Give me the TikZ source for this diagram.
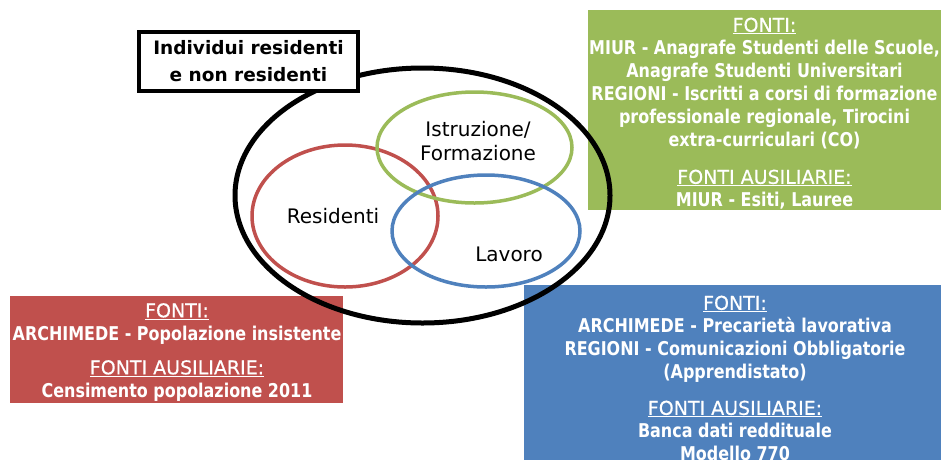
\documentclass[tikz,border=0pt]{standalone}
\usepackage{fontspec}
\setmainfont{DejaVu Sans}
\newfontfamily\condfont{DejaVu Sans}[FakeStretch=0.84]
\newfontfamily\hdrfont{DejaVu Sans}[FakeBold=0.5]
\usetikzlibrary{shapes.geometric}
\definecolor{grn}{HTML}{9BBB59}
\definecolor{redb}{HTML}{C0504D}
\definecolor{blu}{HTML}{4F81BD}
\tikzset{
  srcbox/.style={inner sep=0pt, outer sep=0pt},
  srctxt/.style={inner sep=0pt, align=center, text=white, font=\fontsize{19}{23}\condfont\bfseries},
  ring/.style={ellipse, draw, inner sep=0pt, line width=3.5pt},
  lbl/.style={inner sep=0pt, font=\fontsize{20}{24}\selectfont, align=center}
}
\newcommand{\hdr}[1]{\underline{\hdrfont\mdseries #1}}
\begin{document}
\begin{tikzpicture}[x=1pt,y=-1pt]
\useasboundingbox (0,0) rectangle (941,459);
% colored boxes
\node[srcbox, fill=grn, minimum width=353pt, minimum height=200pt] (gbox) at (764.5,110) {};
\node[srcbox, fill=redb, minimum width=333pt, minimum height=107pt] (rbox) at (176.5,349.5) {};
\node[srcbox, fill=blu, minimum width=417pt, minimum height=190pt] (bbox) at (732.5,380) {};
\node[srctxt, anchor=north] (gtxt) at (764.5,17.5) {\hdr{FONTI:}\\MIUR - Anagrafe Studenti delle Scuole,\\Anagrafe Studenti Universitari\\REGIONI - Iscritti a corsi di formazione\\professionale regionale, Tirocini\\extra-curriculari (CO)\\[14pt]\hdr{FONTI AUSILIARIE:}\\MIUR - Esiti, Lauree};
\node[srctxt, anchor=north] (rtxt) at (177,303) {\hdr{FONTI:}\\ARCHIMEDE - Popolazione insistente\\[11pt]\hdr{FONTI AUSILIARIE:}\\Censimento popolazione 2011};
\node[srctxt, anchor=north] (btxt) at (735,295.5) {\hdr{FONTI:}\\ARCHIMEDE - Precarietà lavorativa\\REGIONI - Comunicazioni Obbligatorie\\(Apprendistato)\\[13pt]\hdr{FONTI AUSILIARIE:}\\Banca dati reddituale\\Modello 770};
% outer ellipse
\node[ellipse, draw, inner sep=0pt, line width=5pt, minimum width=375pt, minimum height=255pt] (all) at (422.5,195.5) {};
% title
\node[draw, line width=4pt, fill=white, minimum width=219pt, minimum height=59pt, inner sep=0pt,
      align=center, font=\fontsize{18.5}{27}\selectfont\bfseries] (title) at (248.5,61.5) {Individui residenti\\e non residenti};
% inner ellipses
\node[ring, draw=redb, minimum width=186pt, minimum height=142pt] (res) at (345,216) {};
\node[ring, draw=grn, minimum width=195pt, minimum height=111pt] (ist) at (474.5,147.5) {};
\node[ring, draw=blu, minimum width=188pt, minimum height=112pt] (lav) at (486,231) {};
\node[lbl] (istl) at (478,141) {Istruzione/\\Formazione};
\node[lbl] (resl) at (333,216) {Residenti};
\node[lbl] (lavl) at (509,254) {Lavoro};
\end{tikzpicture}
\end{document}
